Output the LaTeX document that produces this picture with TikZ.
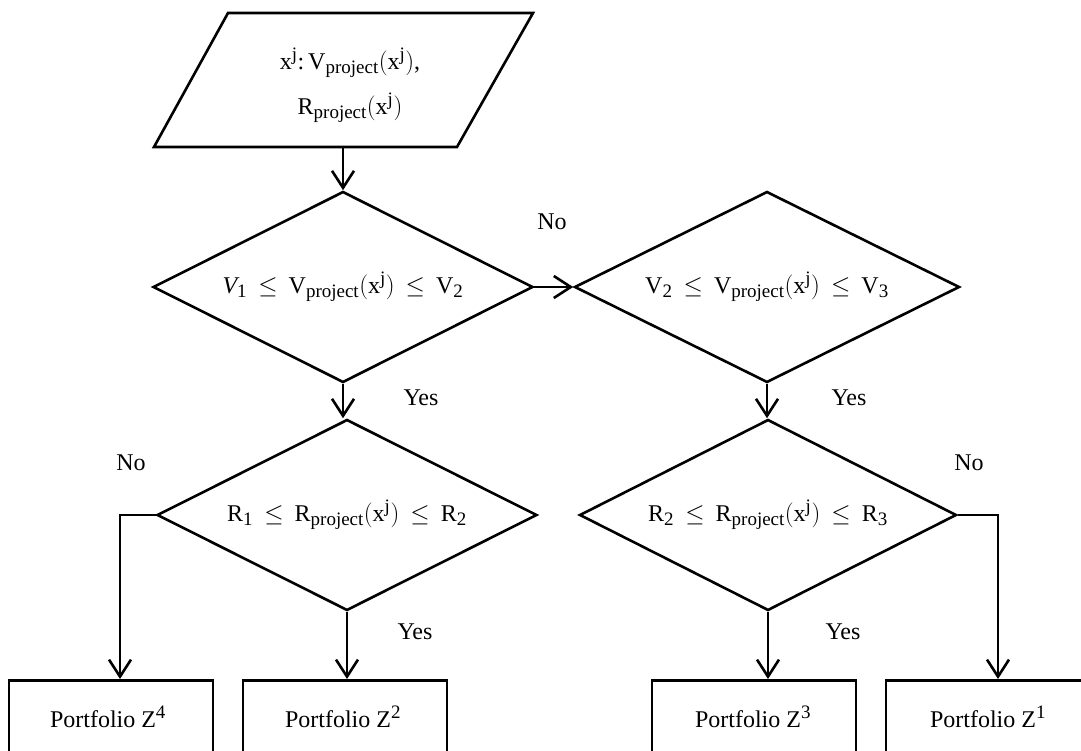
\documentclass[tikz,border=0pt]{standalone}
\usepackage{fontspec}
\setmainfont{Liberation Serif}
\DeclareMathSizes{24}{24}{19}{15}
\usetikzlibrary{shapes.geometric,arrows.meta}
\newcommand{\myleq}{\mathrel{\,\leq\,}}
\begin{document}
\begin{tikzpicture}[x=1pt,y=-1pt,
  every node/.style={font=\fontsize{24}{28}\selectfont},
  dia/.style={draw,line width=2.6pt,shape=diamond,aspect=2,inner sep=0pt,minimum width=380pt,minimum height=191pt},
  pbox/.style={draw,line width=2.6pt,rectangle,minimum width=204pt,minimum height=110pt,anchor=north},
  lab/.style={inner sep=0pt},
  arr/.style={line width=2.6pt,-{Straight Barb[length=17pt,width=22pt,line width=2.6pt]}},
  conn/.style={line width=2.6pt}]
\useasboundingbox (0,0) rectangle (1081,751);
\clip (0,0) rectangle (1081,751);
% input parallelogram
\draw[line width=2.6pt,line join=miter] (228,13) -- (533,13) -- (457,147) -- (154,147) -- cycle;
\node[align=center,inner sep=0pt] (inp) at (350,85)
  {$\mathrm{x^j}$:\,$\mathrm{V_{project}(x^j)}$,\\[14pt] $\mathrm{R_{project}(x^j)}$};
% diamonds
\node[dia] (d1) at (343,287) {$\mathit{V}_{\mathrm{1}}\myleq\mathrm{V_{project}(x^j)}\myleq\mathrm{V_2}$};
\coordinate (inpb) at (343,147);
\node[dia,minimum width=385pt] (d2) at (767,287) {$\mathrm{V_2}\myleq\mathrm{V_{project}(x^j)}\myleq\mathrm{V_3}$};
\node[dia] (d3) at (347,515) {$\mathrm{R_1}\myleq\mathrm{R_{project}(x^j)}\myleq\mathrm{R_2}$};
\node[dia,minimum width=377pt] (d4) at (768,515) {$\mathrm{R_2}\myleq\mathrm{R_{project}(x^j)}\myleq\mathrm{R_3}$};
% boxes
\node[pbox] (z4) at (111,679) {};
\node[pbox] (z2) at (345,679) {};
\node[pbox] (z3) at (754,679) {};
\node[pbox] (z1) at (988,679) {};
\node at (108,717) {Portfolio Z\textsuperscript{4}};
\node at (343,717) {Portfolio Z\textsuperscript{2}};
\node at (753,717) {Portfolio Z\textsuperscript{3}};
\node at (988,717) {Portfolio Z\textsuperscript{1}};
% connectors
\draw[arr] (inpb) -- (d1.north);
\draw[arr] (d1.east) -- (d2.west);
\draw[arr] (d1.south) -- (d3.north -| d1.south);
\draw[arr] (d2.south) -- (d4.north -| d2.south);
\draw[arr] (d3.west) -| ([xshift=9pt]z4.north);
\draw[arr] (d3.south) -- (z2.north -| d3.south);
\draw[arr] (d4.south) -- (z3.north -| d4.south);
\draw[arr] (d4.east) -| ([xshift=10pt]z1.north);
% labels
\node[lab] (l1) at (552,222) {No};
\node[lab] (l2) at (421,398) {Yes};
\node[lab] (l3) at (849,398) {Yes};
\node[lab] (l4) at (131,463) {No};
\node[lab] (l5) at (969,463) {No};
\node[lab] (l6) at (415,632) {Yes};
\node[lab] (l7) at (843,632) {Yes};
\end{tikzpicture}
\end{document}
